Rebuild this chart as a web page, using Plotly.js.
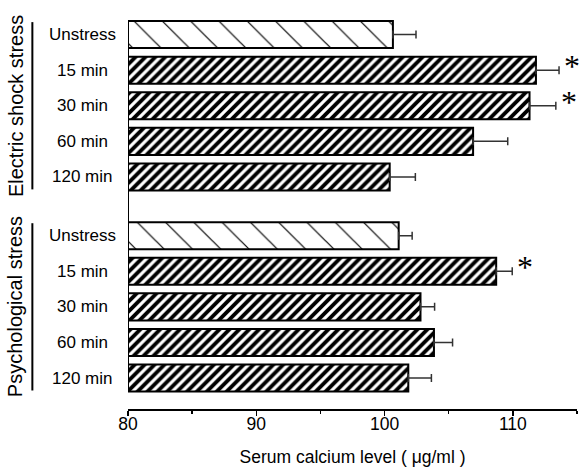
<!DOCTYPE html>
<html>
<head>
<meta charset="utf-8">
<script src="https://cdn.plot.ly/plotly-3.0.1.min.js"></script>
<style>html,body{margin:0;padding:0;background:#fff}#chart{width:581px;height:472px}</style>
</head>
<body>
<div id="chart"></div>
<script>
// ---- data ----
const groups = ["Electric shock stress", "Psychological stress"];
const categories = ["Unstress", "15 min", "30 min", "60 min", "120 min"];
const electricMeans = [100.65, 111.8, 111.3, 106.9, 100.4];
const electricSD = [1.8, 1.8, 2.05, 2.7, 2.0];
const electricSig = [false, true, true, false, false];
const psychMeans = [101.1, 108.7, 102.8, 103.85, 101.85];
const psychSD = [1.05, 1.25, 1.1, 1.45, 1.8];
const psychSig = [false, true, false, false, false];
const xTickVals = [80, 90, 100, 110];
const xTitle = "Serum calcium level ( μg/ml )";

// ---- layout helpers ----
const groupGap = 1.65;
const ePos = categories.map((c, i) => i);
const pPos = categories.map((c, i) => categories.length - 1 + groupGap + i);
const shapesP = categories.map((c, i) => i === 0 ? "\\" : "/");
const sizesP = categories.map((c, i) => i === 0 ? 20 : 7);
const solP = categories.map((c, i) => i === 0 ? 0.06 : 0.55);

function barTrace(means, sd, pos) {
  return {
    type: "bar", orientation: "h",
    x: means.map(v => v - 80), base: 80, y: pos,
    width: 0.76,
    marker: {
      color: "white",
      line: {color: "black", width: 2},
      pattern: {shape: shapesP, size: sizesP, solidity: solP, fgcolor: "black", bgcolor: "white", fillmode: "replace"}
    },
    error_x: {type: "data", symmetric: false, array: sd, arrayminus: sd.map(() => 0),
      color: "#333", thickness: 1.5, width: 4},
    hoverinfo: "skip", showlegend: false
  };
}

const data = [barTrace(electricMeans, electricSD, ePos), barTrace(psychMeans, psychSD, pPos)];

const annotations = [];
const labelFont = {family: "Liberation Sans, Arial, sans-serif", size: 17, color: "black"};
categories.forEach((c, i) => {
  annotations.push({xref: "paper", yref: "y", x: -0.102, y: ePos[i], text: c, showarrow: false, xanchor: "center", yanchor: "middle", font: labelFont});
  annotations.push({xref: "paper", yref: "y", x: -0.102, y: pPos[i], text: c, showarrow: false, xanchor: "center", yanchor: "middle", font: labelFont});
});
function addStars(means, sd, sig, pos) {
  sig.forEach((s, i) => {
    if (s) annotations.push({xref: "x", yref: "y", x: means[i] + sd[i], y: pos[i], text: "*", showarrow: false,
      xanchor: "left", yanchor: "middle", xshift: 3, yshift: 4,
      font: {family: "Liberation Serif, serif", size: 32, color: "black"}});
  });
}
addStars(electricMeans, electricSD, electricSig, ePos);
addStars(psychMeans, psychSD, psychSig, pPos);

const groupPos = [[ePos[0], ePos[ePos.length - 1]], [pPos[0], pPos[pPos.length - 1]]];
const shapes = [];
groupPos.forEach((g, k) => {
  annotations.push({xref: "paper", yref: "y", x: -0.251, y: (g[0] + g[1]) / 2, text: groups[k], showarrow: false,
    textangle: -90, xanchor: "center", yanchor: "middle",
    font: {family: "Liberation Sans, Arial, sans-serif", size: 20, color: "black"}});
  shapes.push({type: "line", xref: "paper", yref: "y", x0: -0.213, x1: -0.213, y0: g[0] - 0.35, y1: g[1] + 0.35,
    line: {color: "black", width: 2}});
});
// y axis line spanning bars only
shapes.push({type: "line", xref: "x", yref: "y", x0: 80, x1: 80, y0: ePos[0] - 0.38, y1: pPos[pPos.length - 1] + 0.38,
  line: {color: "black", width: 2}});

const layout = {
  width: 581, height: 472,
  margin: {l: 128, r: 4, t: 15, b: 63},
  paper_bgcolor: "white", plot_bgcolor: "white",
  xaxis: {
    range: [80, 115.0], tickvals: xTickVals, ticks: "outside", ticklen: 5, tickwidth: 1.5, tickcolor: "black",
    showline: true, linecolor: "black", linewidth: 2, showgrid: false, zeroline: false,
    ticklabelstandoff: -7,
    minor: {dtick: 5, ticks: "outside", ticklen: 3, tickcolor: "black", tickwidth: 1.5},
    tickfont: {family: "Liberation Sans, Arial, sans-serif", size: 17.5, color: "black"},
    title: {text: xTitle, standoff: 18, font: {family: "Liberation Sans, Arial, sans-serif", size: 17.5, color: "black"}}
  },
  yaxis: {
    range: [10.52, -0.55], showticklabels: false, ticks: "", showgrid: false, zeroline: false, showline: false
  },
  bargap: 0,
  annotations: annotations,
  shapes: shapes
};

Plotly.newPlot("chart", data, layout, {staticPlot: true, displayModeBar: false});
</script>
</body>
</html>
